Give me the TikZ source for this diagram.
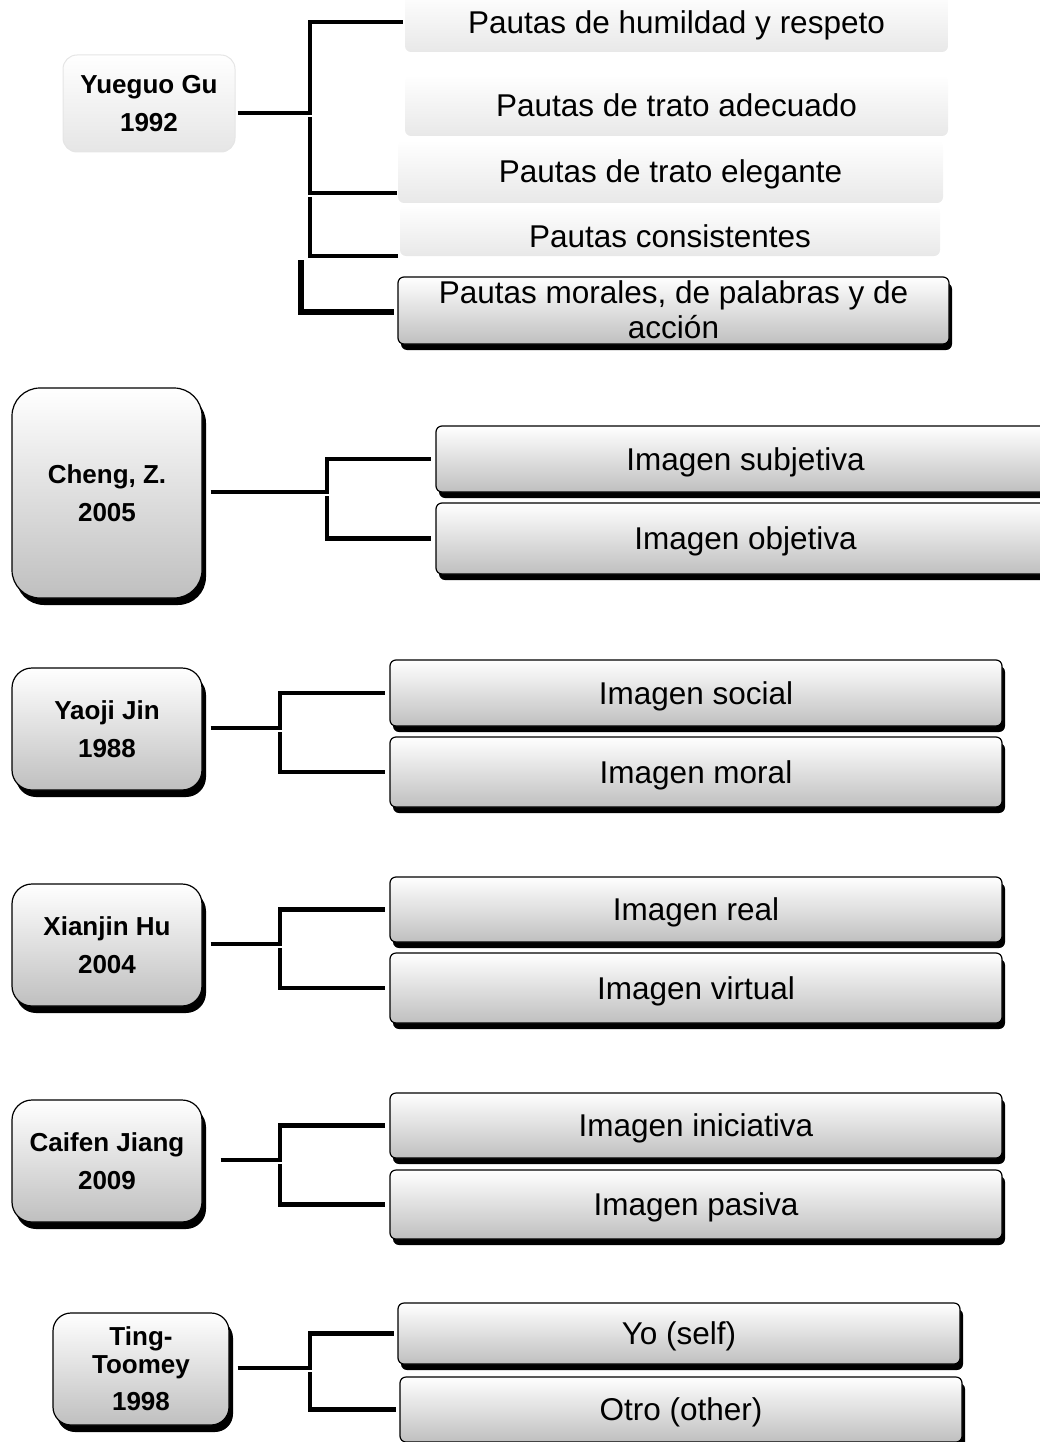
\documentclass[tikz,border=0pt]{standalone}
\usepackage{fontspec}
\setmainfont{Liberation Sans}
\usetikzlibrary{shadows,calc}
\begin{document}
\begin{tikzpicture}[x=1pt,y=-1pt,
  conn/.style={line width=4.5pt},
  wh/.style 2 args={minimum width=#1pt, minimum height=#2pt},
  oneline/.style={text height=22.5pt, text depth=0pt},
  item/.style={rectangle, rounded corners=6pt, draw=black, line width=1.2pt,
    top color=white, bottom color=black!25,
    general shadow={fill=black, shadow xshift=3pt, shadow yshift=-6pt},
    inner sep=0pt, align=center, font=\fontsize{31.5}{33}\selectfont},
  soft/.style={rectangle, rounded corners=6pt, draw=none,
    top color=white, bottom color=black!9,
    inner sep=0pt, align=center, font=\fontsize{31.5}{33}\selectfont},
  author/.style={rectangle, rounded corners=#1, draw=black, line width=1.2pt,
    top color=white, bottom color=black!25,
    general shadow={fill=black, shadow xshift=4pt, shadow yshift=-7pt},
    inner sep=0pt, align=center, font=\bfseries\fontsize{26}{38}\selectfont},
  author/.default=20pt
]
\useasboundingbox (0,0) rectangle (1040,1442);

% ---- Yueguo Gu 1992 ----
\node[soft, draw=black!10, line width=1pt, rounded corners=14pt, bottom color=black!10,
      wh={172}{97}, font=\bfseries\fontsize{26}{38}\selectfont]
      (yg) at (149,103.5) {Yueguo Gu\\1992};
\node[soft, oneline, wh={543}{60}] (p1) at (676.5,22) {Pautas de humildad y respeto};
\node[soft, oneline, wh={543}{61}] (p2) at (676.5,105.5) {Pautas de trato adecuado};
\node[soft, oneline, wh={545}{63}] (p3) at (670.5,171.5) {Pautas de trato elegante};
\node[soft, oneline, wh={540}{51}] (p4) at (670,230.5) {\raisebox{-6pt}[\height][\depth]{Pautas consistentes}};
\node[item, wh={551}{67}] (p5) at (673.5,310.5) {\raisebox{2pt}[\height][\depth]{Pautas morales, de palabras y de}\\acción};

\coordinate (ga) at (310,113);
\coordinate (gb) at (310,117);
\coordinate (gc) at (310,197);
\coordinate (gd) at (301,260);
\draw[conn] ($(yg.east)+(2,9.5)$) -- (ga) |- ($(p1.west)+(-2,0)$);
\draw[conn] (gb) |- ($(p3.south west)+(-1,-10)$);
\draw[conn] (gc) |- ($(p4.south west)+(-2,0)$);
\draw[conn, line width=6pt] (gd) |- ($(p5.west)+(-3,1)$);

% ---- Cheng, Z. 2005 ----
\node[author=28pt, wh={190}{210}] (cheng) at (107,493) {Cheng, Z.\\2005};
\node[item, oneline, wh={619}{66}] (s1) at (745.5,459) {Imagen subjetiva};
\node[item, oneline, wh={619}{71}] (s2) at (745.5,538.5) {Imagen objetiva};
\coordinate (za) at (327,492);
\coordinate (zb) at (327,496);
\draw[conn] ($(cheng.east)+(8,-1)$) -- (za) |- ($(s1.west)+(-4,0)$);
\draw[conn] (zb) |- ($(s2.west)+(-4,0)$);

% ---- Yaoji Jin 1988 ----
\node[author, wh={190}{122}] (yj) at (107,729) {Yaoji Jin\\1988};
\node[item, oneline, wh={612}{66}] (r1) at (696,693) {Imagen social};
\node[item, oneline, wh={612}{70}] (r2) at (696,772) {Imagen moral};
\coordinate (ya) at (280,728);
\coordinate (yb) at (280,732);
\draw[conn] ($(yj.east)+(8,-1)$) -- (ya) |- ($(r1.west)+(-4,0)$);
\draw[conn] (yb) |- ($(r2.west)+(-4,0)$);

% ---- Xianjin Hu 2004 ----
\node[author, wh={190}{122}] (xh) at (107,945) {Xianjin Hu\\2004};
\node[item, oneline, wh={612}{65}] (h1) at (696,909.5) {Imagen real};
\node[item, oneline, wh={612}{70}] (h2) at (696,988) {Imagen virtual};
\coordinate (xa) at (280,944);
\coordinate (xb) at (280,948);
\draw[conn] ($(xh.east)+(8,-1)$) -- (xa) |- ($(h1.west)+(-4,0)$);
\draw[conn] (xb) |- ($(h2.west)+(-4,0)$);

% ---- Caifen Jiang 2009 ----
\node[author, wh={190}{122}] (cj) at (107,1161) {Caifen Jiang\\2009};
\node[item, oneline, wh={612}{65}] (c1) at (696,1125.5) {Imagen iniciativa};
\node[item, oneline, wh={612}{69}] (c2) at (696,1204.5) {Imagen pasiva};
\coordinate (ca) at (280,1160);
\coordinate (cb) at (280,1164);
\draw[conn] ($(cj.east)+(18,-1)$) -- (ca) |- ($(c1.west)+(-4,0)$);
\draw[conn] (cb) |- ($(c2.west)+(-4,0)$);

% ---- Ting-Toomey 1998 ----
\node[author=18pt, wh={176}{112}, font=\bfseries\fontsize{26}{28}\selectfont]
      (tt) at (141,1369) {Ting-\\Toomey\\[9pt]1998};
\node[item, oneline, wh={562}{61}] (t1) at (679,1333.5) {Yo (self)};
\node[item, oneline, wh={562}{65}] (t2) at (681,1409.5) {Otro (other)};
\coordinate (ta) at (310,1368);
\coordinate (tb) at (310,1372);
\draw[conn] ($(tt.east)+(8,-1)$) -- (ta) |- ($(t1.west)+(-3,0)$);
\draw[conn] (tb) |- ($(t2.west)+(-3,0)$);
\end{tikzpicture}
\end{document}
